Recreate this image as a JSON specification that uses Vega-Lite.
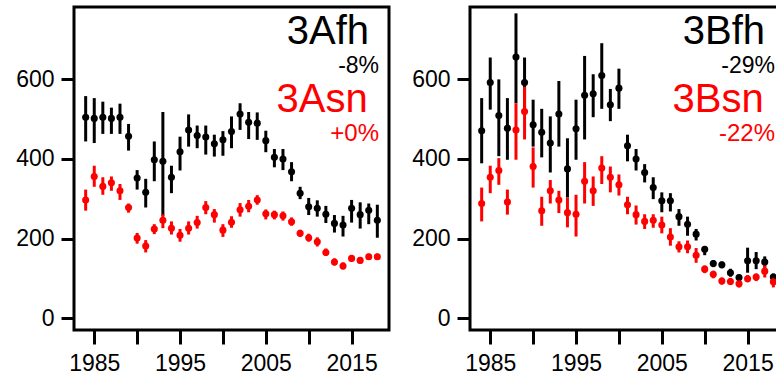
{
  "$schema": "https://vega.github.io/schema/vega-lite/v6.json",
  "padding": {"left": 14, "top": 5, "right": 0, "bottom": 0},
  "background": "white",
  "config": {
    "font": "Liberation Sans",
    "view": {"stroke": "black", "strokeWidth": 3},
    "axis": {"grid": false, "domain": false, "tickColor": "black", "tickWidth": 3, "labelFont": "Liberation Sans", "labelFontSize": 23, "labelColor": "black", "title": null},
    "concat": {"spacing": 19}
  },
  "datasets": {
    "est": [
      {"panel":"3A","series":"fh","year":1984,"value":505,"lo":444,"hi":558},
      {"panel":"3A","series":"fh","year":1985,"value":502,"lo":440,"hi":553},
      {"panel":"3A","series":"fh","year":1986,"value":505,"lo":463,"hi":544},
      {"panel":"3A","series":"fh","year":1987,"value":502,"lo":463,"hi":529},
      {"panel":"3A","series":"fh","year":1988,"value":505,"lo":463,"hi":539},
      {"panel":"3A","series":"fh","year":1989,"value":457,"lo":421,"hi":488},
      {"panel":"3A","series":"fh","year":1990,"value":352,"lo":323,"hi":372},
      {"panel":"3A","series":"fh","year":1991,"value":316,"lo":278,"hi":350},
      {"panel":"3A","series":"fh","year":1992,"value":398,"lo":344,"hi":444},
      {"panel":"3A","series":"fh","year":1993,"value":394,"lo":257,"hi":518},
      {"panel":"3A","series":"fh","year":1994,"value":354,"lo":314,"hi":383},
      {"panel":"3A","series":"fh","year":1995,"value":418,"lo":371,"hi":456},
      {"panel":"3A","series":"fh","year":1996,"value":473,"lo":431,"hi":512},
      {"panel":"3A","series":"fh","year":1997,"value":459,"lo":427,"hi":484},
      {"panel":"3A","series":"fh","year":1998,"value":455,"lo":411,"hi":484},
      {"panel":"3A","series":"fh","year":1999,"value":438,"lo":406,"hi":461},
      {"panel":"3A","series":"fh","year":2000,"value":448,"lo":408,"hi":470},
      {"panel":"3A","series":"fh","year":2001,"value":469,"lo":427,"hi":507},
      {"panel":"3A","series":"fh","year":2002,"value":513,"lo":473,"hi":540},
      {"panel":"3A","series":"fh","year":2003,"value":492,"lo":450,"hi":518},
      {"panel":"3A","series":"fh","year":2004,"value":490,"lo":448,"hi":517},
      {"panel":"3A","series":"fh","year":2005,"value":446,"lo":417,"hi":471},
      {"panel":"3A","series":"fh","year":2006,"value":404,"lo":379,"hi":425},
      {"panel":"3A","series":"fh","year":2007,"value":400,"lo":372,"hi":425},
      {"panel":"3A","series":"fh","year":2008,"value":368,"lo":344,"hi":392},
      {"panel":"3A","series":"fh","year":2009,"value":314,"lo":299,"hi":330},
      {"panel":"3A","series":"fh","year":2010,"value":280,"lo":259,"hi":302},
      {"panel":"3A","series":"fh","year":2011,"value":276,"lo":255,"hi":296},
      {"panel":"3A","series":"fh","year":2012,"value":261,"lo":239,"hi":282},
      {"panel":"3A","series":"fh","year":2013,"value":238,"lo":215,"hi":259},
      {"panel":"3A","series":"fh","year":2014,"value":234,"lo":205,"hi":257},
      {"panel":"3A","series":"fh","year":2015,"value":276,"lo":240,"hi":297},
      {"panel":"3A","series":"fh","year":2016,"value":260,"lo":225,"hi":291},
      {"panel":"3A","series":"fh","year":2017,"value":271,"lo":236,"hi":288},
      {"panel":"3A","series":"fh","year":2018,"value":246,"lo":202,"hi":285},
      {"panel":"3A","series":"sn","year":1984,"value":297,"lo":270,"hi":323},
      {"panel":"3A","series":"sn","year":1985,"value":356,"lo":330,"hi":383},
      {"panel":"3A","series":"sn","year":1986,"value":331,"lo":310,"hi":354},
      {"panel":"3A","series":"sn","year":1987,"value":340,"lo":320,"hi":356},
      {"panel":"3A","series":"sn","year":1988,"value":320,"lo":297,"hi":337},
      {"panel":"3A","series":"sn","year":1989,"value":278,"lo":265,"hi":288},
      {"panel":"3A","series":"sn","year":1990,"value":201,"lo":187,"hi":214},
      {"panel":"3A","series":"sn","year":1991,"value":181,"lo":165,"hi":196},
      {"panel":"3A","series":"sn","year":1992,"value":224,"lo":211,"hi":236},
      {"panel":"3A","series":"sn","year":1993,"value":246,"lo":226,"hi":261},
      {"panel":"3A","series":"sn","year":1994,"value":226,"lo":210,"hi":243},
      {"panel":"3A","series":"sn","year":1995,"value":208,"lo":192,"hi":224},
      {"panel":"3A","series":"sn","year":1996,"value":226,"lo":210,"hi":243},
      {"panel":"3A","series":"sn","year":1997,"value":240,"lo":225,"hi":257},
      {"panel":"3A","series":"sn","year":1998,"value":278,"lo":261,"hi":294},
      {"panel":"3A","series":"sn","year":1999,"value":260,"lo":240,"hi":274},
      {"panel":"3A","series":"sn","year":2000,"value":221,"lo":204,"hi":236},
      {"panel":"3A","series":"sn","year":2001,"value":241,"lo":227,"hi":256},
      {"panel":"3A","series":"sn","year":2002,"value":272,"lo":255,"hi":289},
      {"panel":"3A","series":"sn","year":2003,"value":281,"lo":266,"hi":297},
      {"panel":"3A","series":"sn","year":2004,"value":297,"lo":285,"hi":309},
      {"panel":"3A","series":"sn","year":2005,"value":262,"lo":248,"hi":273},
      {"panel":"3A","series":"sn","year":2006,"value":260,"lo":248,"hi":270},
      {"panel":"3A","series":"sn","year":2007,"value":257,"lo":245,"hi":268},
      {"panel":"3A","series":"sn","year":2008,"value":242,"lo":232,"hi":253},
      {"panel":"3A","series":"sn","year":2009,"value":213,"lo":204,"hi":222},
      {"panel":"3A","series":"sn","year":2010,"value":202,"lo":192,"hi":212},
      {"panel":"3A","series":"sn","year":2011,"value":192,"lo":180,"hi":203},
      {"panel":"3A","series":"sn","year":2012,"value":165,"lo":156,"hi":175},
      {"panel":"3A","series":"sn","year":2013,"value":141,"lo":132,"hi":150},
      {"panel":"3A","series":"sn","year":2014,"value":131,"lo":122,"hi":140},
      {"panel":"3A","series":"sn","year":2015,"value":150,"lo":142,"hi":158},
      {"panel":"3A","series":"sn","year":2016,"value":145,"lo":137,"hi":153},
      {"panel":"3A","series":"sn","year":2017,"value":154,"lo":146,"hi":162},
      {"panel":"3A","series":"sn","year":2018,"value":154,"lo":146,"hi":162},
      {"panel":"3B","series":"fh","year":1984,"value":471,"lo":389,"hi":553},
      {"panel":"3B","series":"fh","year":1985,"value":592,"lo":524,"hi":655},
      {"panel":"3B","series":"fh","year":1986,"value":509,"lo":407,"hi":600},
      {"panel":"3B","series":"fh","year":1987,"value":477,"lo":398,"hi":553},
      {"panel":"3B","series":"fh","year":1988,"value":656,"lo":540,"hi":766},
      {"panel":"3B","series":"fh","year":1989,"value":592,"lo":525,"hi":655},
      {"panel":"3B","series":"fh","year":1990,"value":486,"lo":431,"hi":549},
      {"panel":"3B","series":"fh","year":1991,"value":467,"lo":404,"hi":526},
      {"panel":"3B","series":"fh","year":1992,"value":440,"lo":366,"hi":507},
      {"panel":"3B","series":"fh","year":1993,"value":513,"lo":431,"hi":596},
      {"panel":"3B","series":"fh","year":1994,"value":375,"lo":303,"hi":452},
      {"panel":"3B","series":"fh","year":1995,"value":476,"lo":398,"hi":549},
      {"panel":"3B","series":"fh","year":1996,"value":560,"lo":449,"hi":659},
      {"panel":"3B","series":"fh","year":1997,"value":564,"lo":505,"hi":613},
      {"panel":"3B","series":"fh","year":1998,"value":610,"lo":526,"hi":691},
      {"panel":"3B","series":"fh","year":1999,"value":536,"lo":495,"hi":576},
      {"panel":"3B","series":"fh","year":2000,"value":578,"lo":526,"hi":627},
      {"panel":"3B","series":"fh","year":2001,"value":433,"lo":394,"hi":461},
      {"panel":"3B","series":"fh","year":2002,"value":400,"lo":371,"hi":425},
      {"panel":"3B","series":"fh","year":2003,"value":366,"lo":341,"hi":387},
      {"panel":"3B","series":"fh","year":2004,"value":328,"lo":299,"hi":354},
      {"panel":"3B","series":"fh","year":2005,"value":295,"lo":266,"hi":316},
      {"panel":"3B","series":"fh","year":2006,"value":295,"lo":268,"hi":314},
      {"panel":"3B","series":"fh","year":2007,"value":255,"lo":232,"hi":274},
      {"panel":"3B","series":"fh","year":2008,"value":236,"lo":207,"hi":255},
      {"panel":"3B","series":"fh","year":2009,"value":211,"lo":195,"hi":224},
      {"panel":"3B","series":"fh","year":2010,"value":173,"lo":158,"hi":181},
      {"panel":"3B","series":"fh","year":2011,"value":137,"lo":128,"hi":146},
      {"panel":"3B","series":"fh","year":2012,"value":134,"lo":125,"hi":142},
      {"panel":"3B","series":"fh","year":2013,"value":114,"lo":104,"hi":124},
      {"panel":"3B","series":"fh","year":2014,"value":102,"lo":92,"hi":110},
      {"panel":"3B","series":"fh","year":2015,"value":144,"lo":114,"hi":177},
      {"panel":"3B","series":"fh","year":2016,"value":144,"lo":123,"hi":166},
      {"panel":"3B","series":"fh","year":2017,"value":141,"lo":127,"hi":155},
      {"panel":"3B","series":"fh","year":2018,"value":103,"lo":94,"hi":112},
      {"panel":"3B","series":"sn","year":1984,"value":288,"lo":243,"hi":328},
      {"panel":"3B","series":"sn","year":1985,"value":354,"lo":314,"hi":383},
      {"panel":"3B","series":"sn","year":1986,"value":371,"lo":335,"hi":402},
      {"panel":"3B","series":"sn","year":1987,"value":292,"lo":260,"hi":323},
      {"panel":"3B","series":"sn","year":1988,"value":473,"lo":398,"hi":540},
      {"panel":"3B","series":"sn","year":1989,"value":519,"lo":449,"hi":581},
      {"panel":"3B","series":"sn","year":1990,"value":381,"lo":328,"hi":429},
      {"panel":"3B","series":"sn","year":1991,"value":270,"lo":232,"hi":305},
      {"panel":"3B","series":"sn","year":1992,"value":320,"lo":288,"hi":347},
      {"panel":"3B","series":"sn","year":1993,"value":297,"lo":264,"hi":320},
      {"panel":"3B","series":"sn","year":1994,"value":265,"lo":228,"hi":303},
      {"panel":"3B","series":"sn","year":1995,"value":261,"lo":205,"hi":310},
      {"panel":"3B","series":"sn","year":1996,"value":344,"lo":288,"hi":392},
      {"panel":"3B","series":"sn","year":1997,"value":320,"lo":282,"hi":356},
      {"panel":"3B","series":"sn","year":1998,"value":377,"lo":337,"hi":407},
      {"panel":"3B","series":"sn","year":1999,"value":354,"lo":316,"hi":381},
      {"panel":"3B","series":"sn","year":2000,"value":335,"lo":308,"hi":361},
      {"panel":"3B","series":"sn","year":2001,"value":285,"lo":261,"hi":305},
      {"panel":"3B","series":"sn","year":2002,"value":260,"lo":235,"hi":283},
      {"panel":"3B","series":"sn","year":2003,"value":243,"lo":224,"hi":261},
      {"panel":"3B","series":"sn","year":2004,"value":246,"lo":227,"hi":261},
      {"panel":"3B","series":"sn","year":2005,"value":234,"lo":213,"hi":255},
      {"panel":"3B","series":"sn","year":2006,"value":204,"lo":182,"hi":226},
      {"panel":"3B","series":"sn","year":2007,"value":179,"lo":165,"hi":193},
      {"panel":"3B","series":"sn","year":2008,"value":179,"lo":163,"hi":195},
      {"panel":"3B","series":"sn","year":2009,"value":158,"lo":139,"hi":176},
      {"panel":"3B","series":"sn","year":2010,"value":123,"lo":113,"hi":132},
      {"panel":"3B","series":"sn","year":2011,"value":110,"lo":100,"hi":119},
      {"panel":"3B","series":"sn","year":2012,"value":93,"lo":84,"hi":102},
      {"panel":"3B","series":"sn","year":2013,"value":92,"lo":83,"hi":101},
      {"panel":"3B","series":"sn","year":2014,"value":86,"lo":77,"hi":95},
      {"panel":"3B","series":"sn","year":2015,"value":99,"lo":90,"hi":108},
      {"panel":"3B","series":"sn","year":2016,"value":103,"lo":93,"hi":112},
      {"panel":"3B","series":"sn","year":2017,"value":118,"lo":102,"hi":134},
      {"panel":"3B","series":"sn","year":2018,"value":91,"lo":77,"hi":105}
    ],
    "labels": [
      {"panel":"3A","fh":"3Afh","fhpct":"-8%","sn":"3Asn","snpct":"+0%"},
      {"panel":"3B","fh":"3Bfh","fhpct":"-29%","sn":"3Bsn","snpct":"-22%"}
    ]
  },
  "hconcat": [
    {
      "width": 315,
      "height": 323,
      "layer": [
        {
          "data": {"name": "est"},
          "transform": [{"filter": "datum.panel === '3A'"}],
          "mark": {"type": "rule", "strokeWidth": 3},
          "encoding": {
            "x": {"field": "year", "type": "quantitative", "scale": {"domain": [1982.64, 2019.36], "nice": false, "zero": false},
                  "axis": {"values": [1985, 1990, 1995, 2000, 2005, 2010, 2015], "format": "d", "labelExpr": "datum.value % 10 === 5 ? datum.label : ''", "tickSize": 14, "labelPadding": 8, "labelFlush": false, "labelOverlap": false}},
            "y": {"field": "lo", "type": "quantitative", "scale": {"domain": [-30, 782], "nice": false, "zero": false},
                  "axis": {"values": [0, 200, 400, 600], "tickSize": 13, "labelPadding": 7}},
            "y2": {"field": "hi"},
            "color": {"field": "series", "type": "nominal", "scale": {"domain": ["fh", "sn"], "range": ["#000000", "#FF0000"]}, "legend": null}
          }
        },
        {
          "data": {"name": "est"},
          "transform": [{"filter": "datum.panel === '3A'"}],
          "mark": {"type": "point", "shape": "circle", "filled": true, "size": 50, "opacity": 1},
          "encoding": {
            "x": {"field": "year", "type": "quantitative"},
            "y": {"field": "value", "type": "quantitative"},
            "color": {"field": "series", "type": "nominal", "legend": null}
          }
        },
        {
          "data": {"name": "labels"},
          "transform": [{"filter": "datum.panel === '3A'"}],
          "mark": {"type": "text", "align": "right", "baseline": "alphabetic", "fontSize": 40, "color": "#000000"},
          "encoding": {"x": {"datum": 2017.03}, "y": {"datum": 689}, "text": {"field": "fh"}}
        },
        {
          "data": {"name": "labels"},
          "transform": [{"filter": "datum.panel === '3A'"}],
          "mark": {"type": "text", "align": "right", "baseline": "alphabetic", "fontSize": 23, "color": "#000000"},
          "encoding": {"x": {"datum": 2018.2}, "y": {"datum": 616}, "text": {"field": "fhpct"}}
        },
        {
          "data": {"name": "labels"},
          "transform": [{"filter": "datum.panel === '3A'"}],
          "mark": {"type": "text", "align": "right", "baseline": "alphabetic", "fontSize": 40, "color": "#FF0000"},
          "encoding": {"x": {"datum": 2016.87}, "y": {"datum": 519}, "text": {"field": "sn"}}
        },
        {
          "data": {"name": "labels"},
          "transform": [{"filter": "datum.panel === '3A'"}],
          "mark": {"type": "text", "align": "right", "baseline": "alphabetic", "fontSize": 24, "color": "#FF0000"},
          "encoding": {"x": {"datum": 2018.2}, "y": {"datum": 446}, "text": {"field": "snpct"}}
        }
      ]
    },
    {
      "width": 315,
      "height": 323,
      "layer": [
        {
          "data": {"name": "est"},
          "transform": [{"filter": "datum.panel === '3B'"}],
          "mark": {"type": "rule", "strokeWidth": 3},
          "encoding": {
            "x": {"field": "year", "type": "quantitative", "scale": {"domain": [1982.64, 2019.36], "nice": false, "zero": false},
                  "axis": {"values": [1985, 1990, 1995, 2000, 2005, 2010, 2015], "format": "d", "labelExpr": "datum.value % 10 === 5 ? datum.label : ''", "tickSize": 14, "labelPadding": 8, "labelFlush": false, "labelOverlap": false}},
            "y": {"field": "lo", "type": "quantitative", "scale": {"domain": [-30, 782], "nice": false, "zero": false},
                  "axis": {"values": [0, 200, 400, 600], "tickSize": 13, "labelPadding": 7}},
            "y2": {"field": "hi"},
            "color": {"field": "series", "type": "nominal", "scale": {"domain": ["fh", "sn"], "range": ["#000000", "#FF0000"]}, "legend": null}
          }
        },
        {
          "data": {"name": "est"},
          "transform": [{"filter": "datum.panel === '3B'"}],
          "mark": {"type": "point", "shape": "circle", "filled": true, "size": 50, "opacity": 1},
          "encoding": {
            "x": {"field": "year", "type": "quantitative"},
            "y": {"field": "value", "type": "quantitative"},
            "color": {"field": "series", "type": "nominal", "legend": null}
          }
        },
        {
          "data": {"name": "labels"},
          "transform": [{"filter": "datum.panel === '3B'"}],
          "mark": {"type": "text", "align": "right", "baseline": "alphabetic", "fontSize": 40, "color": "#000000"},
          "encoding": {"x": {"datum": 2017.03}, "y": {"datum": 689}, "text": {"field": "fh"}}
        },
        {
          "data": {"name": "labels"},
          "transform": [{"filter": "datum.panel === '3B'"}],
          "mark": {"type": "text", "align": "right", "baseline": "alphabetic", "fontSize": 23, "color": "#000000"},
          "encoding": {"x": {"datum": 2018.2}, "y": {"datum": 616}, "text": {"field": "fhpct"}}
        },
        {
          "data": {"name": "labels"},
          "transform": [{"filter": "datum.panel === '3B'"}],
          "mark": {"type": "text", "align": "right", "baseline": "alphabetic", "fontSize": 40, "color": "#FF0000"},
          "encoding": {"x": {"datum": 2016.87}, "y": {"datum": 519}, "text": {"field": "sn"}}
        },
        {
          "data": {"name": "labels"},
          "transform": [{"filter": "datum.panel === '3B'"}],
          "mark": {"type": "text", "align": "right", "baseline": "alphabetic", "fontSize": 24, "color": "#FF0000"},
          "encoding": {"x": {"datum": 2018.2}, "y": {"datum": 446}, "text": {"field": "snpct"}}
        }
      ]
    }
  ]
}
